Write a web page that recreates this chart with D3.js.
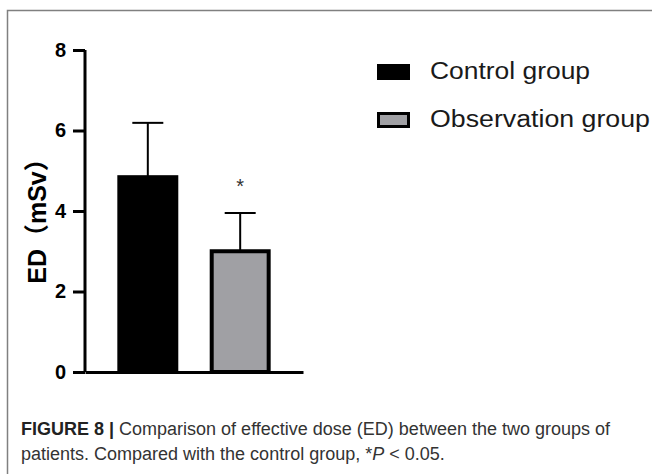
<!DOCTYPE html>
<html>
<head>
<meta charset="utf-8">
<script src="https://cdn.jsdelivr.net/npm/d3@7"></script>
<style>
  html, body { margin: 0; padding: 0; background: #fff; }
  svg { display: block; font-family: "Liberation Sans", Arial, sans-serif; }
</style>
</head>
<body>
<div id="chart"></div>
<script>
// chart values
var groups = ["Control group", "Observation group"];
var means = [4.84, 3.0];
var sds = [1.35, 0.95];
var yTicks = [0, 2, 4, 6, 8];
var yLabel = "ED\uFF08mSv\uFF09";
var caption = [
    ["FIGURE 8 | ", "Comparison of effective dose (ED) between the two groups of"],
    ["", "patients. Compared with the control group, *"]
];

var width = 652, height = 474;

var svg = d3.select("#chart").append("svg")
    .attr("width", width)
    .attr("height", height);

// frame around the figure
svg.append("path")
    .attr("d", "M7.5,474V10.5H652")
    .attr("fill", "none")
    .attr("stroke", "#808080")
    .attr("stroke-width", 1.5);

var x = d3.scaleBand().domain(groups).range([85, 303])
    .paddingInner(0.34).paddingOuter(0.35);
var y = d3.scaleLinear().domain([0, 8]).range([372, 50]);
var color = d3.scaleOrdinal().domain(groups).range(["#000", "#a0a0a4"]);

var data = groups.map(function(g, i) { return {group: g, mean: means[i], sd: sds[i]}; });

// error bars (drawn first, the bar covers the lower part)
var err = svg.append("g").selectAll("g")
    .data(data)
  .enter().append("g")
    .attr("stroke", "#000")
    .attr("stroke-width", 2);
err.append("line")
    .attr("x1", function(d) { return x(d.group) + x.bandwidth() / 2; })
    .attr("x2", function(d) { return x(d.group) + x.bandwidth() / 2; })
    .attr("y1", function(d) { return y(d.mean); })
    .attr("y2", function(d) { return y(d.mean + d.sd); });
err.append("line")
    .attr("x1", function(d) { return x(d.group) + x.bandwidth() / 2 - 15.5; })
    .attr("x2", function(d) { return x(d.group) + x.bandwidth() / 2 + 15.5; })
    .attr("y1", function(d) { return y(d.mean + d.sd); })
    .attr("y2", function(d) { return y(d.mean + d.sd); });

svg.append("g").selectAll("rect")
    .data(data)
  .enter().append("rect")
    .attr("x", function(d) { return x(d.group) + 2; })
    .attr("width", x.bandwidth() - 4)
    .attr("y", function(d) { return y(d.mean); })
    .attr("height", function(d) { return y(0) - y(d.mean); })
    .attr("fill", function(d) { return color(d.group); })
    .attr("stroke", "#000")
    .attr("stroke-width", 4);

// significance mark
svg.append("text")
    .attr("x", x(groups[1]) + x.bandwidth() / 2)
    .attr("y", y(means[1] + sds[1]) - 20)
    .attr("text-anchor", "middle")
    .attr("fill", "#333")
    .style("font-size", "20px")
    .text("*");

// axes
var yAxis = svg.append("g")
    .attr("transform", "translate(85,0)")
    .call(d3.axisLeft(y).tickValues(yTicks).tickSize(12).tickSizeOuter(0).tickPadding(7));
yAxis.selectAll("path, line").attr("stroke", "#000").attr("stroke-width", 3);
yAxis.selectAll("text")
    .attr("fill", "#000")
    .style("font-size", "20px")
    .style("font-weight", "bold");
yAxis.select(".domain").attr("d", "M0," + y(0) + "V" + y(8));

var xAxis = svg.append("g")
    .attr("transform", "translate(0," + y(0) + ")")
    .call(d3.axisBottom(x).tickSize(0).tickSizeOuter(0).tickFormat(""));
xAxis.selectAll("path").attr("stroke", "#000").attr("stroke-width", 3);

svg.append("text")
    .attr("transform", "translate(46,215) rotate(-90)")
    .attr("text-anchor", "middle")
    .attr("fill", "#000")
    .style("font-size", "25px")
    .style("font-weight", "bold")
    .style("font-family", "'Liberation Sans', 'Noto Sans CJK SC', sans-serif")
    .text(yLabel);

// legend
var legendWidths = [160, 220];
var legend = svg.append("g").selectAll("g")
    .data(groups)
  .enter().append("g")
    .attr("transform", function(d, i) { return "translate(377," + (64 + i * 48) + ")"; });
legend.append("rect")
    .attr("x", function(d, i) { return i ? 1.5 : 0; })
    .attr("y", function(d, i) { return i ? 1.5 : 0; })
    .attr("width", function(d, i) { return i ? 30 : 33; })
    .attr("height", function(d, i) { return i ? 13 : 16; })
    .attr("fill", function(d) { return color(d); })
    .attr("stroke", "#000")
    .attr("stroke-width", function(d, i) { return i ? 3 : 0; });
legend.append("text")
    .attr("x", 53)
    .attr("y", 15)
    .attr("fill", "#1a1a1a")
    .attr("textLength", function(d, i) { return legendWidths[i]; })
    .attr("lengthAdjust", "spacingAndGlyphs")
    .style("font-size", "23px")
    .text(function(d) { return d; });

// caption
var cap = svg.append("g")
    .style("font-size", "18px")
    .attr("fill", "#333");
caption.forEach(function(line, i) {
    var t = cap.append("text").attr("x", 21).attr("y", 435 + i * 25);
    if (line[0]) t.append("tspan").style("font-weight", "bold").attr("fill", "#222").text(line[0]);
    t.append("tspan").text(line[1]);
    if (i === 1) {
        t.append("tspan").style("font-style", "italic").text("P");
        t.append("tspan").text(" < 0.05.");
    }
});
</script>
</body>
</html>
